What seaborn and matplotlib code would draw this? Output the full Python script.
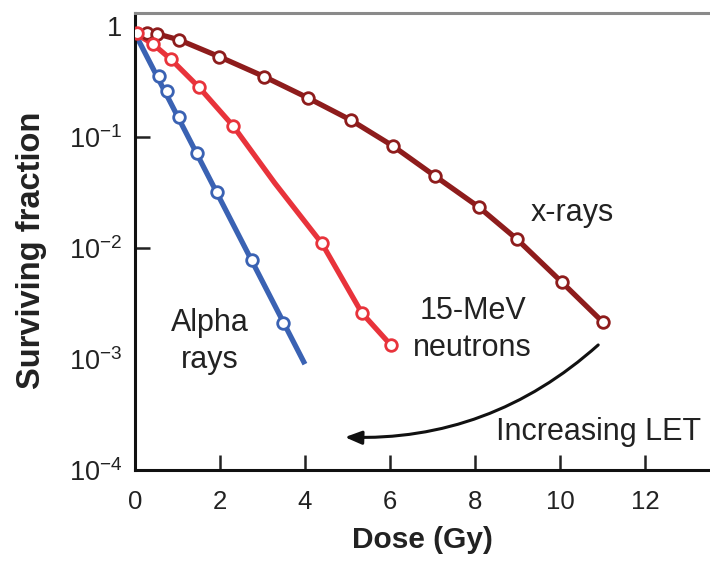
import numpy as np
import pandas as pd
import matplotlib
matplotlib.use("Agg")
import matplotlib.pyplot as plt
import seaborn as sns

sns.set_style("white")
plt.rcParams['font.family'] = ['Liberation Sans', 'DejaVu Sans']
plt.rcParams['mathtext.fontset'] = 'custom'
plt.rcParams['mathtext.rm'] = 'Liberation Sans'
plt.rcParams['mathtext.it'] = 'Liberation Sans'
plt.rcParams['mathtext.bf'] = 'Liberation Sans:bold'

# ---- data ----
xray_dose = [0.28, 0.52, 1.04, 1.98, 3.04, 4.07, 5.08, 6.07, 7.06, 8.09, 8.99, 10.05, 11.01]
xray_sf = [0.86, 0.85, 0.75, 0.53, 0.35, 0.225, 0.142, 0.083, 0.0445, 0.0234, 0.012, 0.0049, 0.00215]
xray_line_dose = [0.0, 0.28, 0.52, 1.04, 1.98, 3.04, 4.07, 5.08, 6.07, 7.06, 8.09, 8.99, 10.05, 11.01]
xray_line_sf = [0.86, 0.86, 0.85, 0.75, 0.53, 0.35, 0.225, 0.142, 0.083, 0.0445, 0.0234, 0.012, 0.0049, 0.00215]

neut_dose = [0.05, 0.42, 0.85, 1.51, 2.31, 4.40, 5.34, 6.02]
neut_sf = [0.86, 0.69, 0.50, 0.28, 0.126, 0.011, 0.0026, 0.00134]
neut_line_dose = [0.0, 0.42, 0.85, 1.51, 2.31, 3.29, 4.40, 5.34, 6.02]
neut_line_sf = [0.86, 0.69, 0.50, 0.28, 0.126, 0.0385, 0.011, 0.0026, 0.00134]

alpha_dose = [0.56, 0.75, 1.04, 1.46, 1.93, 2.75, 3.48]
alpha_sf = [0.355, 0.26, 0.15, 0.072, 0.032, 0.0078, 0.0021]
alpha_line_dose = [0.0, 4.0]
alpha_line_sf = [0.86, 0.0009]

x_ticks = [0, 2, 4, 6, 8, 10, 12]
y_ticks = [1e-4, 1e-3, 1e-2, 1e-1, 1]
y_tick_labels = [r'$10^{-4}$', r'$10^{-3}$', r'$10^{-2}$', r'$10^{-1}$', '1']

colors = {'x-rays': '#8e1c1c', 'neutrons': '#e8333b', 'alpha': '#3a62b3'}

lines = pd.concat([
    pd.DataFrame({'dose': xray_line_dose, 'sf': xray_line_sf, 'series': 'x-rays'}),
    pd.DataFrame({'dose': neut_line_dose, 'sf': neut_line_sf, 'series': 'neutrons'}),
    pd.DataFrame({'dose': alpha_line_dose, 'sf': alpha_line_sf, 'series': 'alpha'}),
])
pts = pd.concat([
    pd.DataFrame({'dose': xray_dose, 'sf': xray_sf, 'series': 'x-rays'}),
    pd.DataFrame({'dose': neut_dose, 'sf': neut_sf, 'series': 'neutrons'}),
    pd.DataFrame({'dose': alpha_dose, 'sf': alpha_sf, 'series': 'alpha'}),
])

fig = plt.figure(figsize=(7.1, 5.63), dpi=100)
ax = fig.add_axes([0.190, 0.165, 0.81, 0.812])
ax.set_yscale('log')

sns.lineplot(data=lines, x='dose', y='sf', hue='series', palette=colors,
             estimator=None, sort=False, linewidth=3.8, legend=False, ax=ax,
             solid_capstyle='butt', solid_joinstyle='round')
for name, c in colors.items():
    sub = pts[pts.series == name]
    sns.scatterplot(data=sub, x='dose', y='sf', s=70, facecolor='white',
                    edgecolor=c, linewidth=2.0, legend=False, ax=ax, zorder=5)

ax.set_xlim(0, 13.53)
ax.set_ylim(1e-4, 1.31)
ax.set_xticks(x_ticks)
ax.set_yticks(y_ticks)
ax.set_yticklabels(y_tick_labels)
ax.yaxis.set_minor_locator(matplotlib.ticker.NullLocator())
ax.tick_params(axis='both', which='major', direction='in', length=11, width=1.8,
               colors='#222222', bottom=True, left=True, top=False, right=False)
ax.tick_params(axis='y', labelsize=19.5, pad=9)
ax.tick_params(axis='x', labelsize=18.5, pad=14)
# hide tick marks that are not drawn in reference
ax.xaxis.get_major_ticks()[0].tick1line.set_visible(False)
for i in (0, 1, 4):
    ax.yaxis.get_major_ticks()[i].tick1line.set_visible(False)

for s in ('left', 'bottom'):
    ax.spines[s].set_color('#111111')
    ax.spines[s].set_linewidth(2.2)
ax.spines['top'].set_color('#8a8a8a')
ax.spines['top'].set_linewidth(2.2)
ax.spines['right'].set_visible(False)

ax.set_xlabel('Dose (Gy)', fontsize=21.5, fontweight='bold', labelpad=9, color='#222222')
ax.set_ylabel('Surviving fraction', fontsize=23.5, fontweight='bold', color='#222222')
ax.yaxis.set_label_coords(-0.153, 0.481)

tkw = dict(fontsize=22, color='#222222', ha='center', va='center', linespacing=1.3)
ax.text(10.3, 0.0207, 'x-rays', **tkw)
ax.text(7.95, 1.83e-3, '15-MeV\nneutrons', **tkw)
ax.text(1.76, 1.45e-3, 'Alpha\nrays', **tkw)
ax.text(10.91, 2.2e-4, 'Increasing LET', **tkw)

ax.annotate('', xy=(4.94, 1.98e-4), xytext=(10.9, 1.34e-3),
            arrowprops=dict(arrowstyle='-|>,head_length=1.0,head_width=0.4',
                            connectionstyle='arc3,rad=-0.2', color='#111111',
                            lw=2.2, shrinkA=0, shrinkB=0))

fig.savefig('out.png', dpi=100)
